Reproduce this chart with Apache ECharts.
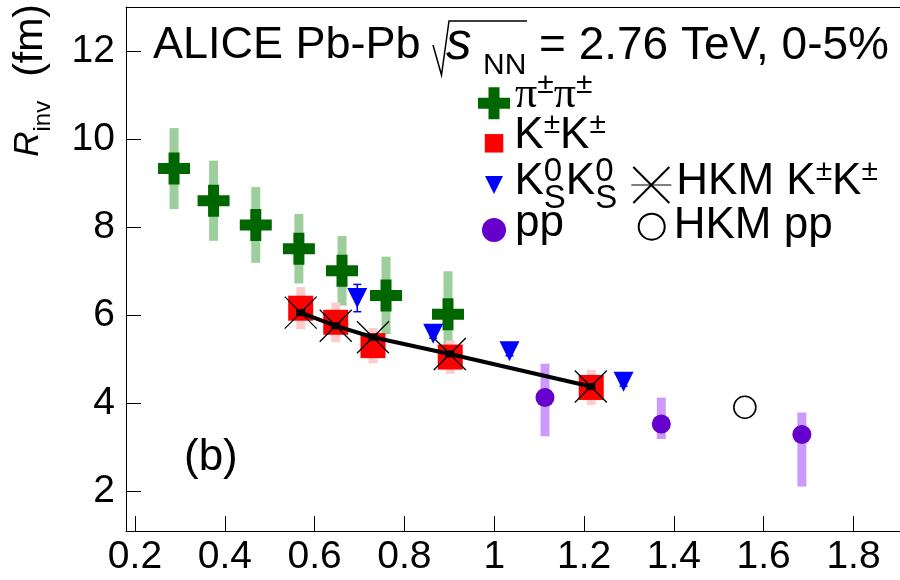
<!DOCTYPE html>
<html><head><meta charset="utf-8">
<script src="https://cdn.jsdelivr.net/npm/echarts@6/dist/echarts.min.js"></script>
<style>html,body{margin:0;padding:0;background:#fff}#c{width:900px;height:580px}</style>
</head><body><div id="c"></div>
<script>
// ---- data ----
const xTicks = [0.2, 0.4, 0.6, 0.8, 1.0, 1.2, 1.4, 1.6, 1.8];
const xTickLabels = ['0.2', '0.4', '0.6', '0.8', '1', '1.2', '1.4', '1.6', '1.8'];
const yTicks = [2, 4, 6, 8, 10, 12];
const yTickLabels = ['2', '4', '6', '8', '10', '12'];

const pionX = [0.287, 0.375, 0.469, 0.565, 0.661, 0.759, 0.897];
const pionR = [9.33, 8.60, 8.05, 7.51, 7.01, 6.45, 6.02];
const pionSys = [0.92, 0.91, 0.86, 0.79, 0.79, 0.88, 0.98];

const kchX = [0.569, 0.647, 0.730, 0.902, 1.216];
const kchR = [6.16, 5.84, 5.31, 5.05, 4.36];
const kchSys = [0.48, 0.45, 0.40, 0.38, 0.40];

const k0X = [0.695, 0.864, 1.034, 1.288];
const k0R = [6.39, 5.58, 5.18, 4.49];
const k0Err = [0.31, 0.10, 0.10, 0.10];

const ppX = [1.113, 1.372, 1.685];
const ppR = [4.13, 3.53, 3.29];
const ppLow = [3.25, 3.19, 2.11];
const ppHigh = [4.90, 4.13, 3.79];

const hkmKX = [0.569, 0.647, 0.730, 0.901, 1.215];
const hkmKR = [6.06, 5.76, 5.50, 5.12, 4.38];

const hkmPPX = [1.558];
const hkmPPR = [3.91];

// ---- styling ----
const FF = '"Liberation Sans", Arial, Helvetica, sans-serif';
const C_GREEN = '#006600', C_GREEN_L = '#9ccf9c';
const C_RED = '#ff0000', C_RED_L = '#ffcccc';
const C_BLUE = '#0000ff';
const C_PUR = '#6600cc', C_PUR_L = '#cc99ff';

const CROSS = 'path://M10.5,0H21.5V10.5H32V21.5H21.5V32H10.5V21.5H0V10.5H10.5Z';
const TRI_DOWN = 'path://M0,0L20,0L10,20Z';
const XMARK = 'path://M0,0L10,10M10,0L0,10';

const X_MIN = 0.18, X_MAX = 1.9035, Y_MIN = 1.1, Y_MAX = 13.0;

const zip = (a, b) => a.map((v, i) => [v, b[i]]);

function sysBars(name, xs, lo, hi, color, w) {
  return {
    type: 'custom', name: name, z: 1, silent: true,
    data: xs.map((x, i) => [x, lo[i], hi[i]]),
    renderItem: function (params, api) {
      const top = api.coord([api.value(0), api.value(2)]);
      const bot = api.coord([api.value(0), api.value(1)]);
      return { type: 'rect', shape: { x: top[0] - w / 2, y: top[1], width: w, height: bot[1] - top[1] },
               style: { fill: color } };
    }
  };
}

function statBars(name, xs, ys, err, color) {
  return {
    type: 'custom', name: name, z: 3, silent: true,
    data: xs.map((x, i) => [x, ys[i] - err[i], ys[i] + err[i]]),
    renderItem: function (params, api) {
      const top = api.coord([api.value(0), api.value(2)]);
      const bot = api.coord([api.value(0), api.value(1)]);
      const st = { stroke: color, lineWidth: 1.5 };
      return { type: 'group', children: [
        { type: 'line', shape: { x1: top[0], y1: top[1], x2: bot[0], y2: bot[1] }, style: st },
        { type: 'line', shape: { x1: top[0] - 4, y1: top[1], x2: top[0] + 4, y2: top[1] }, style: st },
        { type: 'line', shape: { x1: bot[0] - 4, y1: bot[1], x2: bot[0] + 4, y2: bot[1] }, style: st }
      ]};
    }
  };
}

// legend builder: one legend per entry.  A zero-width spacer token of height 100
// makes the text block 100px tall and centred on the icon, so the icon centre = top + 50.
function leg(name, text, iconLeft, iconCenterY, w, h, d, padL) {
  const rich = {
    m0: { fontFamily: FF, fontSize: 44, color: '#000', lineHeight: 4, padding: [0, 0, 2 * d, padL] },
    m: { fontFamily: FF, fontSize: 44, color: '#000', lineHeight: 4, padding: [0, 0, 2 * d, 0] },
    pi0: { fontFamily: '"Liberation Serif", serif', fontSize: 44, color: '#000', lineHeight: 4, padding: [0, 0, 2 * d, padL] },
    pi: { fontFamily: '"Liberation Serif", serif', fontSize: 44, color: '#000', lineHeight: 4, padding: [0, 0, 2 * d, 0] },
    p: { fontFamily: FF, fontSize: 30, color: '#000', lineHeight: 4, padding: [0, 0, 2 * (d + 11), 0] },
    z: { fontFamily: FF, fontSize: 33, color: '#000', lineHeight: 4, width: 0, padding: [0, 0, 2 * (d + 10), 0] },
    s: { fontFamily: FF, fontSize: 33, color: '#000', lineHeight: 4, padding: [Math.max(0, 2 * (16.5 - d)), 0, 0, 0] },
    h: { fontFamily: FF, fontSize: 10, color: 'rgba(0,0,0,0)', width: 0, height: 100, lineHeight: 100 }
  };
  return {
    data: [name], left: iconLeft, top: iconCenterY - 50, itemWidth: w, itemHeight: h, padding: 0,
    selectedMode: false, orient: 'vertical', itemGap: 0,
    lineStyle: { width: 1.2, color: '#000' },
    formatter: () => text + '{h| }',
    textStyle: { fontFamily: FF, fontSize: 44, color: '#000', rich: rich }
  };
}

const chart = echarts.init(document.getElementById('c'), null, { renderer: 'canvas' });

const labelFmt = (ticks, labels) => v => { const i = ticks.findIndex(t => Math.abs(t - v) < 1e-6); return i >= 0 ? labels[i] : ''; };

const option = {
  animation: false,
  backgroundColor: '#fff',
  grid: { left: 126, top: 7, right: 0, bottom: 49, show: false },
  xAxis: [{
    type: 'value', min: X_MIN, max: X_MAX, position: 'bottom',
    axisLine: { show: true, onZero: false, lineStyle: { color: '#000', width: 1 } },
    axisTick: { show: true, inside: true, length: 15, customValues: xTicks, lineStyle: { color: '#000', width: 1 } },
    axisLabel: { customValues: xTicks, fontFamily: FF, fontSize: 39, color: '#000', margin: 7,
      formatter: labelFmt(xTicks, xTickLabels) },
    splitLine: { show: false }
  }, {
    type: 'value', min: X_MIN, max: X_MAX, position: 'top',
    axisLine: { show: true, onZero: false, lineStyle: { color: '#000', width: 1 } },
    axisTick: { show: false }, axisLabel: { show: false }, splitLine: { show: false }
  }],
  yAxis: {
    type: 'value', min: Y_MIN, max: Y_MAX,
    axisLine: { show: true, onZero: false, lineStyle: { color: '#000', width: 1 } },
    axisTick: { show: true, inside: true, length: 15, customValues: yTicks, lineStyle: { color: '#000', width: 1 } },
    axisLabel: { customValues: yTicks, fontFamily: FF, fontSize: 39, color: '#000', margin: 11,
      formatter: labelFmt(yTicks, yTickLabels) },
    splitLine: { show: false }
  },
  legend: [
    leg('π±π±', '{pi0|π}{p|±}{pi|π}{p|±}', 478, 103.3, 32, 32, 7.6, 0),
    leg('K±K±', '{m0|K}{p|±}{m|K}{p|±}', 484.8, 143.3, 18.5, 18.5, 7.6, 6),
    leg('K0SK0S', '{m0|K}{z|0}{s|S}{m|K}{z|0}{s|S}', 485, 185, 18, 18, 2.7, 6.5),
    leg('HKM K±K±', '{m0|HKM K}{p|±}{m|K}{p|±}', 630.7, 185, 40, 45, 2.7, 0),
    leg('pp', '{m0|pp}', 482, 230, 24, 24, 6, 4),
    leg('HKM pp', '{m0|HKM pp}', 637.7, 226.7, 26, 26, 0.5, 4)
  ],
  graphic: [
    { type: 'text', x: 153, y: 46, style: { text: 'ALICE Pb-Pb', fontFamily: FF, fontSize: 45, fill: '#000', align: 'left', verticalAlign: 'middle' } },
    { type: 'polyline', shape: { points: [[433, 45], [441.5, 75], [449, 21], [527, 21]] }, style: { stroke: '#000', lineWidth: 1.5, fill: null } },
    { type: 'text', x: 446, y: 45, style: { text: 's', fontFamily: FF, fontStyle: 'italic', fontSize: 51, fill: '#000', align: 'left', verticalAlign: 'middle' } },
    { type: 'text', x: 483, y: 66, style: { text: 'NN', fontFamily: FF, fontSize: 30, fill: '#000', align: 'left', verticalAlign: 'middle' } },
    { type: 'text', x: 539, y: 46, style: { text: '= 2.76 TeV, 0-5%', fontFamily: FF, fontSize: 46, fill: '#000', align: 'left', verticalAlign: 'middle' } },
    { type: 'text', x: 28, y: 4, rotation: Math.PI / 2,
      style: { text: '{r|R}{sub|inv}{u|(fm)}', align: 'right', verticalAlign: 'middle',
        rich: {
          r: { fontFamily: FF, fontStyle: 'italic', fontSize: 35, fill: '#000', lineHeight: 4 },
          sub: { fontFamily: FF, fontSize: 24, fill: '#000', lineHeight: 4, padding: [31, 0, 0, 0] },
          u: { fontFamily: FF, fontSize: 41, fill: '#000', lineHeight: 4, padding: [6, 0, 0, 24] }
        } } },
    { type: 'text', x: 184, y: 458, style: { text: '(b)', fontFamily: FF, fontSize: 44, fill: '#000', align: 'left', verticalAlign: 'middle' } }
  ],
  series: [
    sysBars('pion sys', pionX, pionR.map((v, i) => v - pionSys[i]), pionR.map((v, i) => v + pionSys[i]), C_GREEN_L, 9),
    sysBars('kch sys', kchX, kchR.map((v, i) => v - kchSys[i]), kchR.map((v, i) => v + kchSys[i]), C_RED_L, 9),
    sysBars('pp sys', ppX, ppLow, ppHigh, C_PUR_L, 9),
    { type: 'scatter', name: 'π±π±', z: 2, symbol: CROSS, symbolSize: 32, data: zip(pionX, pionR),
      itemStyle: { color: C_GREEN, opacity: 1 } },
    { type: 'scatter', name: 'K±K±', z: 3, symbol: 'rect', symbolSize: 25, data: zip(kchX, kchR),
      itemStyle: { color: C_RED, opacity: 1 } },
    statBars('k0 err', k0X, k0R, k0Err, C_BLUE),
    { type: 'scatter', name: 'K0SK0S', z: 4, symbol: TRI_DOWN, symbolSize: [20, 20], data: zip(k0X, k0R),
      itemStyle: { color: C_BLUE, opacity: 1 } },
    { type: 'scatter', name: 'pp', z: 4, symbol: 'circle', symbolSize: 19, data: zip(ppX, ppR),
      itemStyle: { color: C_PUR, opacity: 1 } },
    { type: 'line', name: 'HKM K±K±', z: 5, symbol: XMARK, symbolSize: 32, showAllSymbol: true, data: zip(hkmKX, hkmKR),
      lineStyle: { color: '#000', width: 4 },
      itemStyle: { color: '#000', borderColor: '#000', borderWidth: 1.3, opacity: 1 } },
    { type: 'scatter', name: 'HKM dots', z: 6, symbol: 'rect', symbolSize: [9, 7], silent: true, data: zip(hkmKX, hkmKR),
      itemStyle: { color: '#000', opacity: 1 } },
    { type: 'scatter', name: 'HKM pp', z: 5, symbol: 'circle', symbolSize: 22, data: zip(hkmPPX, hkmPPR),
      itemStyle: { color: '#fff', borderColor: '#000', borderWidth: 1.6, opacity: 1 } }
  ]
};
chart.setOption(option);
</script>
</body></html>
